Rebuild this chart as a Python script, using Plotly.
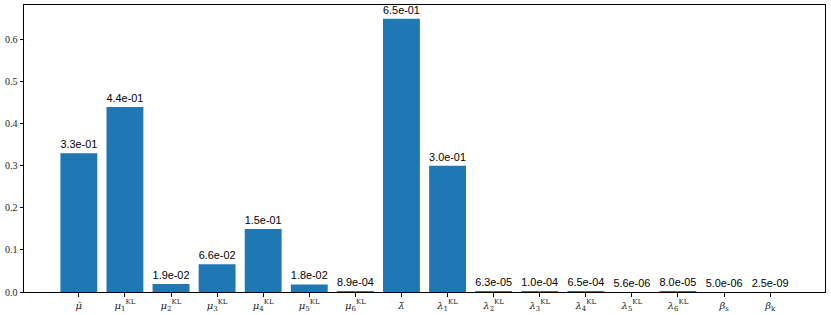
import plotly.graph_objects as go

labels = ["<i>μ̄</i>", "<i>μ</i><sub>1</sub><sup>KL</sup>", "<i>μ</i><sub>2</sub><sup>KL</sup>",
          "<i>μ</i><sub>3</sub><sup>KL</sup>", "<i>μ</i><sub>4</sub><sup>KL</sup>",
          "<i>μ</i><sub>5</sub><sup>KL</sup>", "<i>μ</i><sub>6</sub><sup>KL</sup>",
          "<i>λ̄</i>", "<i>λ</i><sub>1</sub><sup>KL</sup>", "<i>λ</i><sub>2</sub><sup>KL</sup>",
          "<i>λ</i><sub>3</sub><sup>KL</sup>", "<i>λ</i><sub>4</sub><sup>KL</sup>",
          "<i>λ</i><sub>5</sub><sup>KL</sup>", "<i>λ</i><sub>6</sub><sup>KL</sup>",
          "<i>β</i><sub>s</sub>", "<i>β</i><sub>k</sub>"]
values = [3.3e-01, 4.4e-01, 1.9e-02, 6.6e-02, 1.5e-01, 1.8e-02, 8.9e-04,
          6.5e-01, 3.0e-01, 6.3e-05, 1.0e-04, 6.5e-04, 5.6e-06, 8.0e-05, 5.0e-06, 2.5e-09]
text_labels = ["3.3e-01", "4.4e-01", "1.9e-02", "6.6e-02", "1.5e-01", "1.8e-02", "8.9e-04",
               "6.5e-01", "3.0e-01", "6.3e-05", "1.0e-04", "6.5e-04", "5.6e-06", "8.0e-05",
               "5.0e-06", "2.5e-09"]
yticks = [0.0, 0.1, 0.2, 0.3, 0.4, 0.5, 0.6]

x = list(range(len(values)))
fig = go.Figure(go.Bar(
    x=x, y=values, width=0.8, marker=dict(color="#1f77b4", line=dict(width=0)),
    text=text_labels, textposition="outside", cliponaxis=False,
    textfont=dict(family="Liberation Sans, Arial, sans-serif", size=11, color="black"),
))
fig.update_layout(
    width=831, height=315,
    margin=dict(l=24, r=6, t=5, b=23),
    plot_bgcolor="white", paper_bgcolor="white",
    showlegend=False,
)
fig.update_xaxes(
    range=[-1.19, 16.19], tickmode="array", tickvals=x, ticktext=labels,
    ticks="outside", ticklen=3.5, tickcolor="black", tickwidth=0.8,
    showline=True, linecolor="black", linewidth=1, mirror=True, showgrid=False,
    tickfont=dict(family="DejaVu Serif, Liberation Serif, serif", size=10, color="#222"),
    zeroline=False, automargin=False,
)
fig.update_yaxes(
    range=[0, 0.6825], tickmode="array", tickvals=yticks,
    ticktext=[f"{v:.1f}" for v in yticks],
    ticks="outside", ticklen=3.5, tickcolor="black", tickwidth=0.8,
    showline=True, linecolor="black", linewidth=1, mirror=True, showgrid=False,
    tickfont=dict(family="Liberation Serif, DejaVu Serif, serif", size=10, color="#222"),
    zeroline=False, automargin=False,
)
fig.write_html("out.html", config={"displayModeBar": False},
               post_script="document.body.style.margin='0';document.body.style.overflow='hidden';")
